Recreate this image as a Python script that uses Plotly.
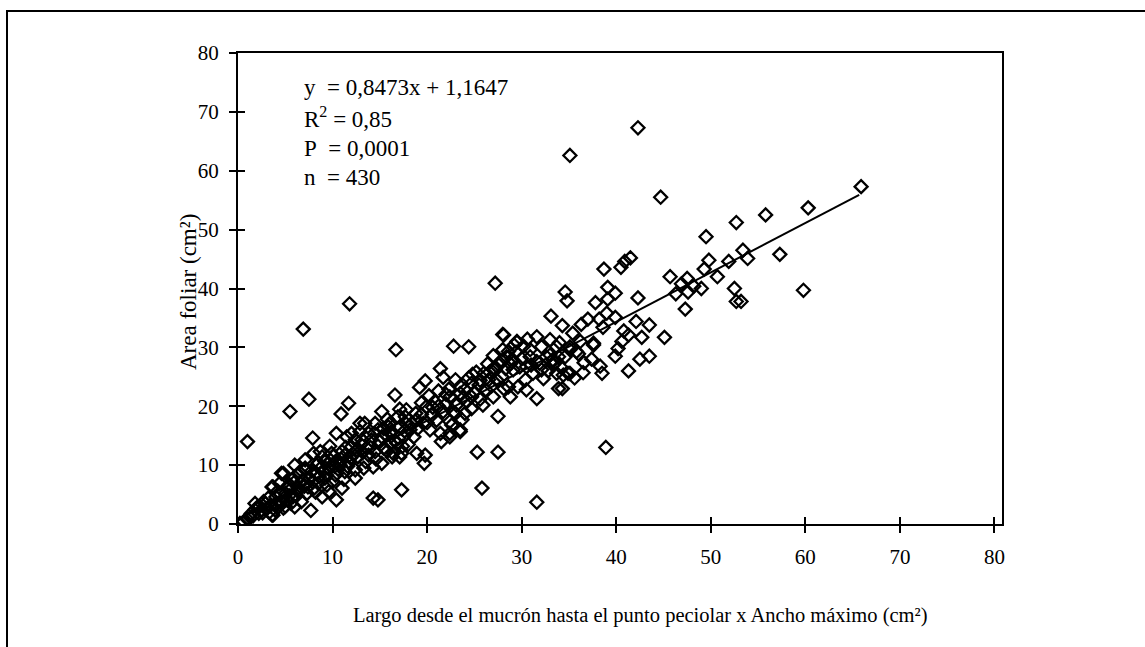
import plotly.graph_objects as go

# ---- data (x = largo x ancho, y = area foliar) ----
low_points = [
    (0.2, 0.1), (0.6, 0.4), (1.3, 1.1), (1.8, 2.4), (1.4, 1.8), (2.5, 2.4), (1.8, 3.5), (2.9, 3.5),
    (2.7, 3.8), (3.6, 1.5), (3.7, 1.5), (4.3, 2.9), (4.8, 2.7), (6.0, 2.9), (5.2, 4.1), (6.7, 3.8),
    (4.0, 4.6), (5.8, 4.6), (7.3, 5.2), (8.9, 4.6), (9.6, 5.5), (11.0, 6.1), (10.4, 4.1), (3.6, 6.3),
    (3.7, 6.3), (4.4, 6.9), (5.5, 5.8), (6.6, 6.9), (8.5, 6.9), (5.7, 7.5), (4.8, 8.6), (4.6, 8.6),
    (6.0, 8.0), (7.6, 7.8), (9.2, 7.8), (8.3, 8.6), (10.3, 8.3), (7.1, 9.2), (7.1, 9.5), (9.6, 9.5),
    (11.3, 8.9), (6.0, 10.0), (8.3, 10.0), (8.5, 10.4), (7.1, 10.9), (9.2, 10.6), (10.3, 10.6),
    (10.8, 10.0), (11.7, 10.6), (8.0, 12.0), (8.7, 12.3), (8.9, 11.4), (9.9, 12.0), (11.0, 12.3),
    (11.3, 11.7), (9.7, 13.2), (7.9, 14.6), (10.4, 15.4), (11.5, 14.8), (10.9, 18.7), (11.7, 20.5),
    (1.0, 14.0), (5.5, 19.1), (7.5, 21.2), (6.9, 33.1), (11.8, 37.4), (7.7, 2.3),
    (2.2, 1.8), (3.0, 2.6), (3.2, 4.4), (4.1, 3.4), (5.0, 5.2), (5.6, 3.5), (6.3, 5.6), (6.8, 7.4),
    (7.4, 6.3), (8.0, 6.0), (8.6, 8.0), (9.0, 9.0), (9.4, 6.6), (10.0, 7.2), (10.6, 9.3), (11.2, 7.6),
    (2.3, 3.0), (3.3, 2.0), (4.5, 5.0), (5.3, 6.5), (6.2, 4.8), (7.0, 6.4), (7.8, 9.0), (8.2, 5.4),
    (9.8, 10.8), (10.1, 11.5), (11.6, 9.8), (11.9, 11.2),
    (1.0, 0.8), (1.6, 1.4), (2.0, 2.8), (2.6, 1.9), (3.4, 3.1), (3.9, 2.4), (4.6, 3.8), (5.0, 3.0),
    (5.4, 4.8), (6.4, 6.2), (7.2, 7.0), (7.9, 7.2), (8.8, 9.6), (9.3, 8.4), (10.2, 9.8), (10.9, 11.0),
    (11.4, 13.0), (6.5, 8.8), (5.9, 7.0), (4.2, 5.6),
]

mid_points = [
    (12.4, 14.3), (12.9, 15.7), (13.4, 17.1), (12.9, 17.1), (13.8, 15.4), (12.0, 15.4), (13.1, 14.3),
    (12.0, 13.1), (13.6, 12.9), (14.1, 14.3), (14.8, 16.0), (14.5, 17.1), (15.2, 19.1), (15.8, 17.8),
    (15.9, 16.5), (15.2, 14.8), (16.2, 15.7), (17.0, 14.6), (16.1, 13.7), (15.4, 12.9), (14.5, 12.3),
    (13.8, 11.7), (12.7, 11.4), (12.4, 9.2), (12.4, 7.8), (13.3, 9.5), (14.3, 9.7), (15.2, 10.3),
    (16.3, 11.4), (17.3, 12.0), (16.4, 12.0), (17.1, 11.4), (16.8, 13.7), (17.5, 14.8), (16.1, 15.4),
    (17.1, 16.5), (18.2, 16.0), (17.7, 18.2), (18.9, 17.7), (19.6, 17.1), (20.3, 16.0), (17.1, 19.5),
    (17.8, 19.4), (19.9, 19.9), (16.6, 21.9), (19.2, 23.2), (19.8, 24.3), (16.7, 29.6),
    (17.3, 5.8), (14.3, 4.4), (14.8, 4.1), (18.9, 12.0), (19.8, 11.7), (19.7, 10.3),
    (13.0, 13.5), (14.0, 13.0), (15.0, 14.0), (15.6, 15.2), (16.6, 14.2), (17.6, 15.8), (18.4, 17.0),
    (18.6, 14.8), (19.0, 16.2), (19.4, 18.6), (12.6, 12.6), (13.5, 10.6), (14.6, 11.0), (15.8, 12.4),
    (18.0, 13.5), (17.8, 17.0), (16.9, 18.2),
    (20.8, 20.8), (21.4, 15.4), (21.5, 14.0), (22.4, 15.4), (22.4, 14.8), (23.5, 15.7), (23.5, 16.0),
    (22.4, 17.4), (23.7, 17.7), (21.7, 19.1), (23.1, 20.2), (24.7, 19.6), (25.9, 20.2), (22.4, 21.6),
    (23.5, 22.2), (24.7, 21.6), (22.3, 22.9), (23.5, 23.4), (24.7, 23.9), (25.5, 23.6), (26.5, 24.5),
    (27.2, 26.3), (27.0, 26.4), (27.9, 27.7), (28.6, 29.3), (29.5, 31.0), (28.0, 32.2), (22.8, 30.2),
    (24.4, 30.1), (21.4, 26.4), (21.7, 24.9), (27.5, 18.3), (25.3, 12.2), (27.5, 12.2), (25.8, 6.1),
    (27.0, 21.6), (28.8, 21.6), (28.1, 23.0), (28.6, 23.3), (29.6, 23.3), (27.9, 25.0), (29.1, 26.2),
    (28.4, 28.4), (29.8, 26.7), (28.1, 32.1), (27.2, 40.9),
    (20.5, 18.5), (21.0, 17.6), (20.2, 21.8), (21.2, 22.6), (22.0, 20.4), (23.0, 18.8), (24.2, 20.8),
    (24.0, 22.8), (25.0, 22.4), (25.6, 21.2), (26.2, 22.8), (26.8, 23.4), (26.0, 25.6), (27.4, 24.4),
    (28.3, 26.4), (27.0, 28.6), (28.0, 29.6), (29.0, 28.0), (29.4, 29.2), (26.4, 27.2), (25.2, 25.8),
    (24.4, 24.8), (23.0, 24.5), (20.6, 19.8), (22.8, 19.0),
    (12.2, 11.8), (13.2, 12.2), (14.4, 15.4), (15.4, 16.2), (16.0, 17.0), (17.4, 13.2), (18.8, 18.8),
    (19.4, 20.6), (20.0, 17.2), (21.2, 20.0), (22.0, 22.0), (23.8, 21.4), (24.8, 25.4), (25.6, 24.4),
    (26.6, 25.8), (27.6, 27.0), (28.8, 27.2), (29.2, 30.4), (22.6, 16.8), (24.0, 18.8),
]

high_points = [
    (30.4, 24.5), (30.5, 22.8), (30.5, 26.7), (31.6, 21.3), (32.3, 24.7), (31.6, 27.6), (30.0, 28.1),
    (30.9, 29.6), (32.1, 30.1), (31.6, 31.8), (33.0, 28.7), (33.5, 27.3), (32.1, 26.2), (33.7, 25.6),
    (33.9, 23.0), (31.2, 25.6), (31.9, 27.3), (30.9, 28.4), (29.5, 30.9), (33.0, 31.3), (33.9, 28.4),
    (35.1, 29.6), (36.0, 28.9), (33.3, 27.0), (34.4, 25.3), (35.1, 25.6), (36.5, 25.7), (35.6, 24.8),
    (38.3, 26.8), (38.5, 25.6), (37.4, 28.0), (37.6, 30.4), (33.1, 35.3), (34.3, 33.7), (36.3, 33.9),
    (37.0, 34.8), (38.2, 34.8), (39.0, 35.8), (39.9, 35.1), (38.6, 33.4), (40.8, 32.8), (41.3, 32.1),
    (42.7, 31.7), (45.1, 31.7), (40.6, 31.0), (40.2, 29.8), (39.9, 28.5), (42.5, 28.0), (43.5, 28.5),
    (41.3, 26.0), (42.1, 34.4), (43.5, 33.8), (34.6, 39.4), (34.8, 37.9), (37.8, 37.6), (38.7, 43.3),
    (39.1, 40.2), (39.9, 39.2), (39.1, 38.2), (40.5, 43.6), (40.9, 44.6), (41.5, 45.2), (42.3, 38.4),
    (46.3, 39.1), (47.6, 39.4), (49.0, 40.0), (48.2, 40.4), (46.9, 40.8), (47.5, 41.7), (45.7, 42.0),
    (50.7, 42.0), (49.3, 43.3), (49.8, 44.8), (51.9, 44.6), (53.9, 45.1), (53.4, 46.5), (57.3, 45.8),
    (49.5, 48.8), (52.5, 40.0), (52.7, 37.8), (53.2, 37.8), (59.8, 39.7), (47.3, 36.5), (52.7, 51.2),
    (55.8, 52.5), (60.3, 53.7), (65.9, 57.3), (44.7, 55.5), (35.1, 62.6), (42.3, 67.3), (38.9, 13.0),
    (31.6, 3.7), (33.7, 30.1), (33.3, 27.9), (34.1, 26.7), (34.6, 28.4), (34.9, 25.6), (35.8, 29.3),
    (37.6, 30.7), (36.2, 31.0), (34.3, 23.0), (35.1, 30.1),
    (30.2, 30.2), (31.0, 27.0), (32.6, 28.4), (32.8, 26.0), (34.0, 30.8), (36.6, 27.4), (35.4, 32.4),
    (30.6, 31.4),
]

# trend line end points
trend_x = [0.5, 65.7]
trend_y = [1.2, 55.9]

tick_vals = [0, 10, 20, 30, 40, 50, 60, 70, 80]
tick_text = ["0", "10", "20", "30", "40", "50", "60", "70", "80"]

stats_lines = [
    "y\u00a0 = 0,8473x + 1,1647",
    "R<sup>2</sup> = 0,85",
    "P\u00a0 = 0,0001",
    "n\u00a0 = 430",
]

x_title = "Largo desde el mucrón hasta el punto peciolar x Ancho máximo (cm²)"
y_title = "Area foliar (cm²)"

# ---- figure ----
W, H = 1145, 647
L, R, T, B = 238, 143, 53, 123
PW, PH = W - L - R, H - T - B

def px_to_paper_x(px):
    return (px - L) / PW

def py_to_paper_y(py):
    return (H - B - py) / PH

FONT = "Liberation Serif, Times New Roman, serif"

all_points = low_points + mid_points + high_points
xs = [p[0] for p in all_points]
ys = [p[1] for p in all_points]

fig = go.Figure()
fig.add_trace(go.Scatter(
    x=xs, y=ys, mode="markers",
    marker=dict(symbol="diamond-open", size=10, color="black", line=dict(width=2.3, color="black")),
    showlegend=False, hoverinfo="x+y",
))
fig.add_trace(go.Scatter(
    x=trend_x, y=trend_y, mode="lines", xaxis="x2", yaxis="y2",
    line=dict(color="black", width=2), showlegend=False, hoverinfo="skip",
))

XR = [0, 80.8]
YR = [0, 80]
axis_common = dict(showgrid=False, zeroline=False, fixedrange=True, automargin=False)

fig.update_layout(
    width=W, height=H,
    margin=dict(l=L, r=R, t=T, b=B, pad=0),
    paper_bgcolor="white", plot_bgcolor="white",
    font=dict(family=FONT, color="black", size=21),
    xaxis=dict(range=XR, tickvals=tick_vals, ticktext=tick_text, ticks="outside", ticklen=7,
               tickwidth=2, tickcolor="black", showline=True, linewidth=2, linecolor="black",
               mirror=True, tickfont=dict(family=FONT, size=21, color="black"),
               ticklabelstandoff=6, **axis_common),
    yaxis=dict(range=YR, tickvals=tick_vals, ticktext=tick_text, ticks="outside", ticklen=7,
               tickwidth=2, tickcolor="black", showline=True, linewidth=2, linecolor="black",
               mirror=True, tickfont=dict(family=FONT, size=21, color="black"),
               ticklabelstandoff=6, **axis_common),
    xaxis2=dict(range=XR, overlaying="x", anchor="y2", side="bottom", tickvals=tick_vals,
                ticks="inside", ticklen=7, tickwidth=2, tickcolor="black", showticklabels=False,
                showline=False, **axis_common),
    yaxis2=dict(range=YR, overlaying="y", anchor="x2", side="left", tickvals=tick_vals,
                ticks="inside", ticklen=7, tickwidth=2, tickcolor="black", showticklabels=False,
                showline=False, **axis_common),
)

annotations = []
line_py = [87, 118, 148, 177]
for txt, py in zip(stats_lines, line_py):
    annotations.append(dict(
        text=txt, xref="paper", yref="paper", x=px_to_paper_x(302), y=py_to_paper_y(py),
        xanchor="left", yanchor="middle", showarrow=False,
        font=dict(family=FONT, size=23, color="black"),
    ))
annotations.append(dict(
    text=x_title, xref="paper", yref="paper", x=px_to_paper_x(640), y=py_to_paper_y(615),
    xanchor="center", yanchor="middle", showarrow=False,
    font=dict(family=FONT, size=20.5, color="black"),
))
annotations.append(dict(
    text=y_title, xref="paper", yref="paper", x=px_to_paper_x(188), y=py_to_paper_y(292),
    xanchor="center", yanchor="middle", showarrow=False, textangle=-90,
    font=dict(family=FONT, size=23, color="black"),
))
fig.update_layout(annotations=annotations)

# outer frame of the figure panel
fig.add_shape(type="rect", xref="paper", yref="paper",
              x0=px_to_paper_x(7), x1=px_to_paper_x(1170),
              y0=py_to_paper_y(680), y1=py_to_paper_y(11),
              line=dict(color="black", width=2), fillcolor="rgba(0,0,0,0)", layer="above")

fig.write_html("out.html",
               config={"displayModeBar": False},
               post_script="document.body.style.margin='0';document.body.style.overflow='hidden';")
